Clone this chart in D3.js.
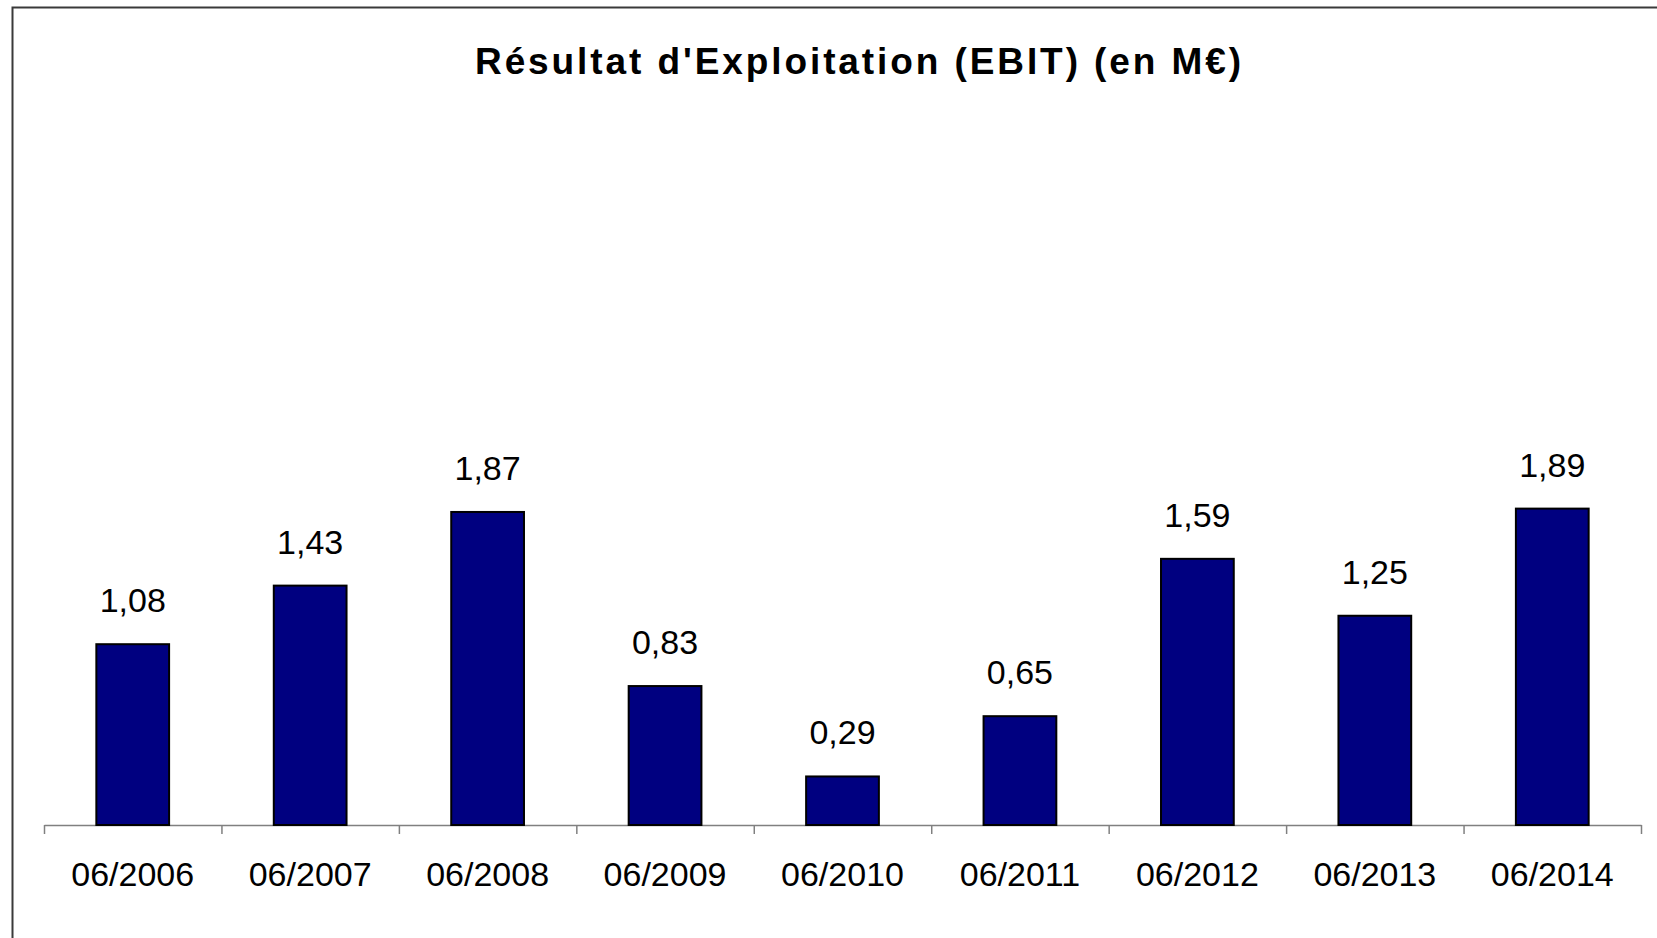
<!DOCTYPE html>
<html>
<head>
  <meta charset="UTF-8">
  <title>Résultat d'Exploitation (EBIT) (en M€)</title>
  <script src="https://d3js.org/d3.v7.min.js"></script>
  <style>
    body { margin: 0; background: #fff; }
    svg { display: block; font-family: "Liberation Sans", Arial, sans-serif; }
    .bar { fill: #000080; stroke: #000; stroke-width: 2; }
    .value-label { font-size: 34px; fill: #000; }
    .x-labels text { font-size: 34px; fill: #000; }
    .boundary path, .boundary line { stroke: #808080; stroke-width: 1.5; }
  </style>
</head>
<body>
  <svg width="1657" height="938"></svg>

  <script>
    const categories = ["06/2006", "06/2007", "06/2008", "06/2009", "06/2010",
                        "06/2011", "06/2012", "06/2013", "06/2014"];
    const values = [1.08, 1.43, 1.87, 0.83, 0.29, 0.65, 1.59, 1.25, 1.89];
    const labels = ["1,08", "1,43", "1,87", "0,83", "0,29", "0,65", "1,59", "1,25", "1,89"];

    const svg = d3.select("svg");
    const left = 44, right = 1641, baseY = 825;

    // chart frame (only top + left show inside the picture)
    svg.append("rect")
      .attr("x", 12.5).attr("y", 7.5)
      .attr("width", 1800).attr("height", 1100)
      .attr("fill", "none")
      .attr("stroke", "#3a3a3a")
      .attr("stroke-width", 2);

    svg.append("text")
      .attr("x", 858)
      .attr("y", 74)
      .attr("text-anchor", "middle")
      .attr("font-size", 37)
      .attr("font-weight", "bold")
      .attr("textLength", 766)
      .attr("lengthAdjust", "spacing")
      .text("Résultat d'Exploitation (EBIT) (en M€)");

    const x = d3.scaleBand()
      .domain(categories)
      .range([left, right])
      .paddingInner(0.59)
      .paddingOuter(0.295);

    const xFull = d3.scaleBand()
      .domain(categories)
      .range([left, right])
      .padding(0);

    const y = d3.scaleLinear()
      .domain([0, 2.5])
      .range([baseY, baseY - 2.5 * 167.4]);

    // category boundary ticks, excel style
    const edge = d3.scaleLinear().domain([0, categories.length]).range([left, right]);
    svg.append("g")
      .attr("class", "boundary")
      .attr("transform", `translate(0,${baseY})`)
      .call(d3.axisBottom(edge)
        .tickValues(d3.range(categories.length + 1))
        .tickSize(9)
        .tickSizeOuter(0)
        .tickFormat(""));

    svg.append("g")
      .attr("class", "x-labels")
      .attr("transform", `translate(0,${baseY})`)
      .call(d3.axisBottom(xFull).tickSize(0).tickPadding(37))
      .call(g => g.select(".domain").remove())
      .selectAll("text")
      .attr("font-family", null)
      .attr("font-size", null);

    svg.selectAll(".bar")
      .data(values)
      .enter()
      .append("rect")
      .attr("class", "bar")
      .attr("x", (d, i) => x(categories[i]))
      .attr("width", x.bandwidth())
      .attr("y", d => y(d))
      .attr("height", d => baseY - y(d));

    svg.selectAll(".value-label")
      .data(values)
      .enter()
      .append("text")
      .attr("class", "value-label")
      .attr("x", (d, i) => x(categories[i]) + x.bandwidth() / 2)
      .attr("y", d => y(d) - 32)
      .attr("text-anchor", "middle")
      .text((d, i) => labels[i]);
  </script>
</body>
</html>
